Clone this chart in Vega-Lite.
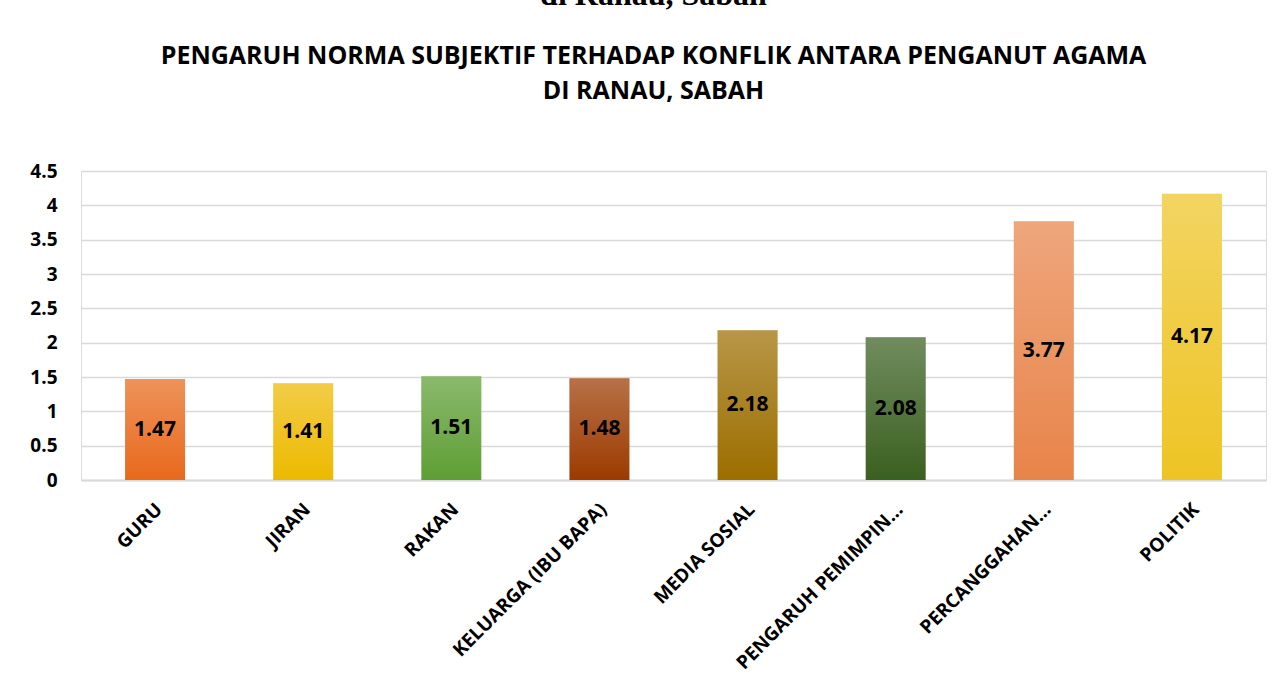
{
  "$schema": "https://vega.github.io/schema/vega-lite/v6.json",
  "width": 1185,
  "height": 309,
  "autosize": {"type": "none"},
  "padding": {"left": 81, "top": 171, "right": 7, "bottom": 215},
  "background": "white",
  "title": {
    "text": "di Ranau, Sabah",
    "font": "Liberation Serif",
    "fontSize": 32,
    "fontWeight": "bold",
    "color": "#000000",
    "subtitle": ["PENGARUH NORMA SUBJEKTIF TERHADAP KONFLIK ANTARA PENGANUT AGAMA", "DI RANAU, SABAH"],
    "subtitleFont": "Open Sans",
    "subtitleFontSize": 25,
    "subtitleFontWeight": "bold",
    "subtitleColor": "#000000",
    "subtitleLineHeight": 35,
    "subtitlePadding": 32,
    "anchor": "middle",
    "dx": -20,
    "offset": 57
  },
  "data": {
    "values": [
      {"kategori": "GURU", "nilai": 1.47},
      {"kategori": "JIRAN", "nilai": 1.41},
      {"kategori": "RAKAN", "nilai": 1.51},
      {"kategori": "KELUARGA (IBU BAPA)", "nilai": 1.48},
      {"kategori": "MEDIA SOSIAL", "nilai": 2.18},
      {"kategori": "PENGARUH PEMIMPIN…", "nilai": 2.08},
      {"kategori": "PERCANGGAHAN…", "nilai": 3.77},
      {"kategori": "POLITIK", "nilai": 4.17}
    ]
  },
  "encoding": {
    "x": {
      "field": "kategori",
      "type": "nominal",
      "sort": null,
      "scale": {"paddingInner": 0.595, "paddingOuter": 0.2975},
      "axis": {
        "title": null,
        "labelAngle": -45,
        "labelAlign": "right",
        "labelBaseline": "middle",
        "labelFont": "Open Sans",
        "labelFontWeight": "bold",
        "labelFontSize": 19,
        "labelColor": "#000000",
        "labelPadding": 26,
        "labelOffset": 4,
        "labelLimit": 0,
        "labelBound": false,
        "labelOverlap": false,
        "ticks": false,
        "domain": true,
        "domainColor": "#D9D9D9",
        "domainWidth": 2,
        "grid": false
      }
    }
  },
  "layer": [
    {
      "mark": {"type": "bar"},
      "encoding": {
        "y": {
          "field": "nilai",
          "type": "quantitative",
          "scale": {"domain": [0, 4.5], "nice": false},
          "axis": {
            "title": null,
            "values": [0, 0.5, 1, 1.5, 2, 2.5, 3, 3.5, 4, 4.5],
            "format": "~g",
            "labelFont": "Open Sans",
            "labelFontWeight": "bold",
            "labelFontSize": 19,
            "labelColor": "#000000",
            "labelPadding": 24,
            "ticks": false,
            "domain": false,
            "grid": true,
            "gridColor": "#D9D9D9",
            "gridWidth": 1.5
          }
        },
        "color": {
          "field": "kategori",
          "type": "nominal",
          "scale": {
            "domain": ["GURU", "JIRAN", "RAKAN", "KELUARGA (IBU BAPA)", "MEDIA SOSIAL", "PENGARUH PEMIMPIN…", "PERCANGGAHAN…", "POLITIK"],
            "range": ["#E8691C", "#EDB900", "#5E9E34", "#9C3A00", "#9C6E00", "#3A6020", "#E8844A", "#EEC424"]
          },
          "legend": null
        }
      }
    },
    {
      "mark": {
        "type": "bar",
        "color": {
          "gradient": "linear",
          "x1": 0, "y1": 0, "x2": 0, "y2": 1,
          "stops": [
            {"offset": 0, "color": "rgba(255,255,255,0.28)"},
            {"offset": 1, "color": "rgba(255,255,255,0)"}
          ]
        }
      },
      "encoding": {
        "y": {
          "field": "nilai",
          "type": "quantitative",
          "scale": {"domain": [0, 4.5], "nice": false},
          "axis": null
        }
      }
    },
    {
      "mark": {
        "type": "text",
        "font": "Open Sans",
        "fontWeight": "bold",
        "fontSize": 21,
        "color": "#000000",
        "baseline": "middle",
        "align": "center"
      },
      "encoding": {
        "y": {
          "field": "nilai",
          "type": "quantitative",
          "scale": {"domain": [0, 9], "nice": false},
          "axis": null
        },
        "text": {"field": "nilai", "type": "quantitative", "format": ".2f"}
      }
    }
  ],
  "resolve": {"scale": {"y": "independent"}}
}
